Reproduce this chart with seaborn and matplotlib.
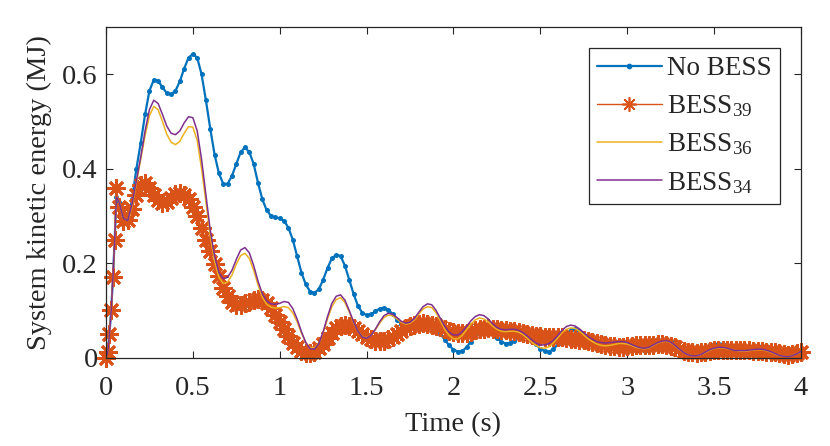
import numpy as np
import pandas as pd
import matplotlib
matplotlib.use("Agg")
import matplotlib.pyplot as plt
import seaborn as sns

# time samples (s): dense start, then every 0.025 s
t_start = [0.0, 0.01, 0.02, 0.03, 0.04, 0.05, 0.06]
t_rest = np.round(np.arange(0.075, 4.0001, 0.025), 3)
time = np.concatenate([t_start, t_rest])

# system kinetic energy (MJ)
no_bess = [
    0, 0.01, 0.05, 0.10, 0.17, 0.25, 0.34,
    0.33, 0.295, 0.29, 0.335, 0.40, 0.455, 0.515, 0.565, 0.588, 0.586, 0.572, 0.560, 0.558, 0.565, 0.585, 0.612, 0.635,
    0.643, 0.635, 0.60, 0.545, 0.485, 0.43, 0.39, 0.368, 0.368, 0.385, 0.41, 0.435, 0.445, 0.435, 0.41, 0.37, 0.335, 0.312, 0.30, 0.297,
    0.295, 0.29, 0.275, 0.25, 0.215, 0.18, 0.155, 0.14, 0.137, 0.145, 0.165, 0.19, 0.21, 0.218, 0.215, 0.195, 0.165, 0.135, 0.11, 0.095,
    0.09, 0.092, 0.098, 0.104, 0.106, 0.102, 0.092, 0.08, 0.072, 0.068, 0.068, 0.07, 0.073, 0.075, 0.075, 0.07, 0.062, 0.05, 0.038, 0.026,
    0.017, 0.013, 0.014, 0.022, 0.034, 0.046, 0.054, 0.057, 0.056, 0.05, 0.042, 0.034, 0.03, 0.031, 0.036, 0.043, 0.047, 0.045, 0.038, 0.028,
    0.019, 0.014, 0.013, 0.018, 0.028, 0.04, 0.051, 0.058, 0.06, 0.057, 0.049, 0.04, 0.032, 0.027, 0.025, 0.026, 0.029, 0.032, 0.034, 0.035,
    0.033, 0.028, 0.022, 0.017, 0.015, 0.017, 0.023, 0.031, 0.037, 0.039, 0.036, 0.028, 0.019, 0.011, 0.006, 0.005, 0.007, 0.012, 0.018, 0.024,
    0.028, 0.03, 0.029, 0.025, 0.02, 0.015, 0.013, 0.014, 0.017, 0.021, 0.024, 0.025, 0.023, 0.018, 0.012, 0.007, 0.004, 0.004, 0.006, 0.01,
    0.014,
]
bess_39 = [
    0, 0.012, 0.05, 0.10, 0.17, 0.25, 0.36,
    0.32, 0.29, 0.292, 0.315, 0.345, 0.365, 0.37, 0.36, 0.345, 0.333, 0.328, 0.33, 0.338, 0.346, 0.348, 0.345, 0.335,
    0.318, 0.30, 0.275, 0.25, 0.225, 0.198, 0.172, 0.148, 0.13, 0.118, 0.112, 0.112, 0.115, 0.118, 0.122, 0.124, 0.122, 0.116, 0.105, 0.09,
    0.075, 0.06, 0.045, 0.032, 0.022, 0.014, 0.01, 0.01, 0.013, 0.02, 0.03, 0.042, 0.053, 0.062, 0.067, 0.069, 0.067, 0.063, 0.057, 0.05,
    0.044, 0.039, 0.036, 0.035, 0.036, 0.039, 0.044, 0.05, 0.056, 0.062, 0.067, 0.07, 0.072, 0.073, 0.072, 0.07, 0.067, 0.064, 0.06, 0.057,
    0.054, 0.052, 0.052, 0.053, 0.055, 0.058, 0.06, 0.061, 0.062, 0.061, 0.06, 0.059, 0.058, 0.057, 0.056, 0.054, 0.052, 0.05, 0.048, 0.046,
    0.045, 0.044, 0.044, 0.044, 0.044, 0.043, 0.042, 0.04, 0.039, 0.038, 0.037, 0.036, 0.034, 0.032, 0.029, 0.027, 0.025, 0.024, 0.023, 0.023,
    0.024, 0.025, 0.026, 0.026, 0.026, 0.026, 0.027, 0.028, 0.028, 0.027, 0.025, 0.022, 0.018, 0.015, 0.012, 0.011, 0.01, 0.011, 0.013, 0.015,
    0.016, 0.017, 0.017, 0.017, 0.016, 0.016, 0.016, 0.016, 0.016, 0.015, 0.015, 0.014, 0.013, 0.012, 0.011, 0.009, 0.007, 0.006, 0.007, 0.01,
    0.013,
]
bess_36 = [
    0, 0.01, 0.05, 0.10, 0.17, 0.25, 0.34,
    0.33, 0.295, 0.29, 0.32, 0.37, 0.42, 0.47, 0.512, 0.532, 0.525, 0.5, 0.473, 0.456, 0.451, 0.458, 0.475, 0.489,
    0.488, 0.46, 0.40, 0.33, 0.258, 0.205, 0.17, 0.157, 0.16, 0.175, 0.198, 0.216, 0.221, 0.21, 0.185, 0.154, 0.128, 0.113, 0.107, 0.105,
    0.106, 0.108, 0.106, 0.095, 0.076, 0.052, 0.032, 0.021, 0.021, 0.031, 0.053, 0.082, 0.108, 0.123, 0.127, 0.117, 0.097, 0.074, 0.056, 0.045,
    0.042, 0.047, 0.059, 0.073, 0.085, 0.09, 0.089, 0.082, 0.075, 0.071, 0.073, 0.08, 0.092, 0.103, 0.108, 0.106, 0.095, 0.078, 0.06, 0.047,
    0.04, 0.04, 0.047, 0.059, 0.071, 0.08, 0.084, 0.082, 0.076, 0.067, 0.06, 0.056, 0.055, 0.056, 0.056, 0.054, 0.049, 0.041, 0.033, 0.026,
    0.021, 0.02, 0.023, 0.031, 0.042, 0.053, 0.06, 0.063, 0.062, 0.056, 0.048, 0.04, 0.034, 0.029, 0.026, 0.025, 0.026, 0.028, 0.03, 0.03,
    0.029, 0.026, 0.022, 0.02, 0.019, 0.021, 0.026, 0.031, 0.034, 0.035, 0.032, 0.025, 0.017, 0.011, 0.006, 0.004, 0.004, 0.007, 0.011, 0.016,
    0.019, 0.021, 0.021, 0.019, 0.017, 0.015, 0.014, 0.014, 0.015, 0.016, 0.017, 0.017, 0.015, 0.012, 0.008, 0.005, 0.003, 0.002, 0.004, 0.008,
    0.012,
]
bess_34 = [
    0, 0.01, 0.05, 0.10, 0.17, 0.25, 0.34,
    0.33, 0.295, 0.29, 0.325, 0.375, 0.425, 0.48, 0.525, 0.545, 0.538, 0.515, 0.49, 0.475, 0.472, 0.48, 0.497, 0.51,
    0.508, 0.48, 0.42, 0.345, 0.27, 0.215, 0.18, 0.167, 0.17, 0.185, 0.208, 0.228, 0.233, 0.222, 0.195, 0.162, 0.135, 0.12, 0.114, 0.113,
    0.115, 0.119, 0.117, 0.104, 0.082, 0.055, 0.032, 0.019, 0.018, 0.03, 0.055, 0.087, 0.115, 0.13, 0.133, 0.122, 0.1, 0.076, 0.056, 0.044,
    0.041, 0.047, 0.06, 0.076, 0.089, 0.094, 0.092, 0.085, 0.077, 0.073, 0.075, 0.083, 0.096, 0.108, 0.114, 0.112, 0.1, 0.083, 0.066, 0.054,
    0.048, 0.048, 0.055, 0.066, 0.078, 0.087, 0.091, 0.089, 0.082, 0.072, 0.064, 0.06, 0.059, 0.06, 0.06, 0.058, 0.053, 0.046, 0.038, 0.031,
    0.027, 0.027, 0.03, 0.037, 0.047, 0.058, 0.066, 0.069, 0.067, 0.061, 0.053, 0.045, 0.039, 0.034, 0.032, 0.031, 0.032, 0.033, 0.034, 0.034,
    0.032, 0.028, 0.024, 0.021, 0.02, 0.022, 0.027, 0.032, 0.035, 0.036, 0.033, 0.026, 0.018, 0.011, 0.006, 0.004, 0.004, 0.007, 0.012, 0.017,
    0.02, 0.022, 0.022, 0.02, 0.017, 0.015, 0.015, 0.015, 0.016, 0.017, 0.018, 0.018, 0.016, 0.013, 0.009, 0.005, 0.003, 0.002, 0.004, 0.008,
    0.013,
]

x_ticks = [0, 0.5, 1, 1.5, 2, 2.5, 3, 3.5, 4]
x_tick_labels = ["0", "0.5", "1", "1.5", "2", "2.5", "3", "3.5", "4"]
y_ticks = [0, 0.2, 0.4, 0.6]
y_tick_labels = ["0", "0.2", "0.4", "0.6"]

sns.set_style("ticks")
plt.rcParams["font.family"] = ["Liberation Serif", "DejaVu Serif"]
plt.rcParams["mathtext.fontset"] = "custom"
plt.rcParams["mathtext.rm"] = "Liberation Serif"
plt.rcParams["mathtext.it"] = "Liberation Serif:italic"

df = pd.DataFrame({"t": time, "nb": no_bess, "b39": bess_39, "b36": bess_36, "b34": bess_34})

fig, ax = plt.subplots(figsize=(8.3, 4.46), dpi=100)
fig.subplots_adjust(left=0.1277, right=0.965, bottom=0.198, top=0.9395)

sns.lineplot(data=df, x="t", y="nb", ax=ax, color="#0072BD", lw=1.6,
             marker="o", ms=3.6, mec="#0072BD", mew=0, label="No BESS")
sns.lineplot(data=df, x="t", y="b39", ax=ax, color="#D95319", lw=1.0,
             marker=(8, 2, 0), ms=13, mec="#D95319", mew=2.0, clip_on=False,
             label=r"BESS$_{\mathrm{39}}$")
sns.lineplot(data=df, x="t", y="b36", ax=ax, color="#EDB120", lw=1.1,
             label=r"BESS$_{\mathrm{36}}$")
sns.lineplot(data=df, x="t", y="b34", ax=ax, color="#7E2F8E", lw=1.1,
             label=r"BESS$_{\mathrm{34}}$")

ax.set_xlim(0, 4)
ax.set_ylim(0, 0.7)
ax.set_xticks(x_ticks)
ax.set_xticklabels(x_tick_labels)
ax.set_yticks(y_ticks)
ax.set_yticklabels(y_tick_labels)
ax.tick_params(direction="in", top=True, right=True, length=5, width=0.8,
               color="0.15", labelsize=20.5, labelcolor="0.15")
ax.tick_params(axis="x", pad=13)
ax.tick_params(axis="y", pad=6)
for s in ax.spines.values():
    s.set_color("0.15")
    s.set_linewidth(0.9)

ax.set_xlabel("Time (s)", fontsize=20.5, color="0.15", labelpad=8)
ax.set_ylabel("System kinetic energy (MJ)", fontsize=20.5, color="0.15", labelpad=7)

leg = ax.legend(loc="upper right", bbox_to_anchor=(0.9698, 0.9356), borderaxespad=0,
                fancybox=False, edgecolor="0.15", framealpha=1, fontsize=19.5,
                handlelength=2.4, handletextpad=0.2, numpoints=1, labelspacing=0.45,
                borderpad=0.3, markerscale=0.8)
leg.get_frame().set_linewidth(0.9)
for h in leg.legend_handles:
    h.set_markeredgewidth(1.2)

fig.savefig("out.png", dpi=100)
